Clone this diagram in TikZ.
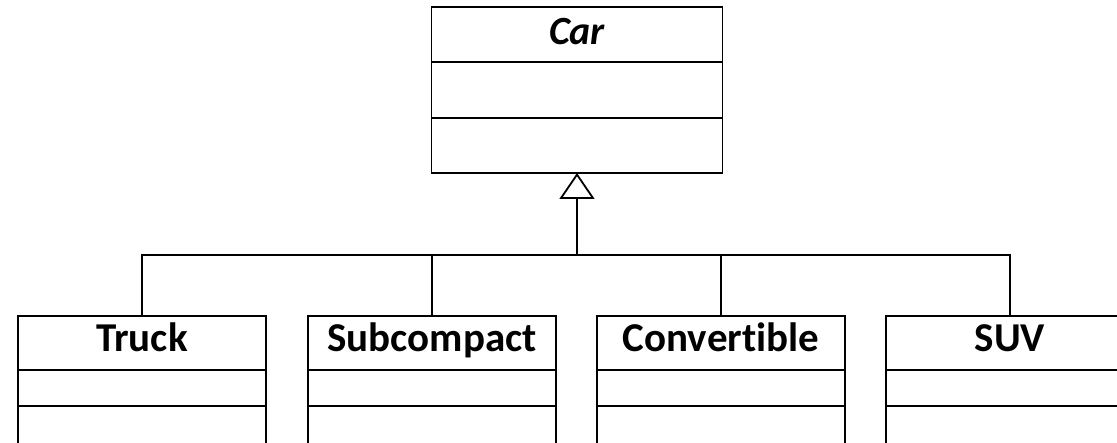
\documentclass[tikz,border=0pt]{standalone}
\usepackage{fontspec}
\setmainfont{Carlito}[Ligatures=NoCommon]
\usetikzlibrary{positioning,arrows.meta}
\tikzset{
  part/.style={draw, line width=1.8pt, rectangle, inner sep=0pt, outer sep=0pt},
  classname/.style={part, minimum width=248pt, minimum height=54pt,
    text height=27pt, text depth=9pt, font=\bfseries\fontsize{41}{43}\selectfont},
  attrbox/.style={part, minimum width=248pt, minimum height=36pt},
  opbox/.style={part, minimum width=248pt, minimum height=60pt},
  inherit/.style={line width=1.8pt, -{Triangle[open, length=26pt, width=35pt]}},
  link/.style={line width=1.8pt}
}
\begin{document}
\begin{tikzpicture}[x=1pt, y=-1pt]
	\useasboundingbox (0,0) rectangle (1117,443);
	\clip (0,0) rectangle (1117,443);
	% abstract base class
	\node[part, minimum width=291pt, minimum height=55pt, text height=26pt, text depth=5pt,
		font=\bfseries\itshape\fontsize{40}{42}\selectfont] (car) at (577,34.5) {Car};
	\node[part, minimum width=291pt, minimum height=56pt, below=0pt of car] (carattr) {};
	\node[part, minimum width=291pt, minimum height=55pt, below=0pt of carattr] (carop) {};
	% subclasses
	\node[classname] (truck) at (142,343) {Truck};
	\node[attrbox, below=0pt of truck] (truckattr) {};
	\node[opbox, below=0pt of truckattr] (truckop) {};
	\node[classname] (subcompact) at (432,343) {Subcompact};
	\node[attrbox, below=0pt of subcompact] (subcompactattr) {};
	\node[opbox, below=0pt of subcompactattr] (subcompactop) {};
	\node[classname] (convertible) at (721,343) {Convert\kern0pt ible};
	\node[attrbox, below=0pt of convertible] (convertibleattr) {};
	\node[opbox, below=0pt of convertibleattr] (convertibleop) {};
	\node[classname] (suv) at (1010,343) {SUV};
	\node[attrbox, below=0pt of suv] (suvattr) {};
	\node[opbox, below=0pt of suvattr] (suvop) {};
	% generalization
	\coordinate (bus) at (577,255);
	\draw[inherit] (bus) -- (carop.south);
	\foreach \child in {truck, subcompact, convertible, suv}
		\draw[link] (\child.north) |- (bus);
\end{tikzpicture}
\end{document}
